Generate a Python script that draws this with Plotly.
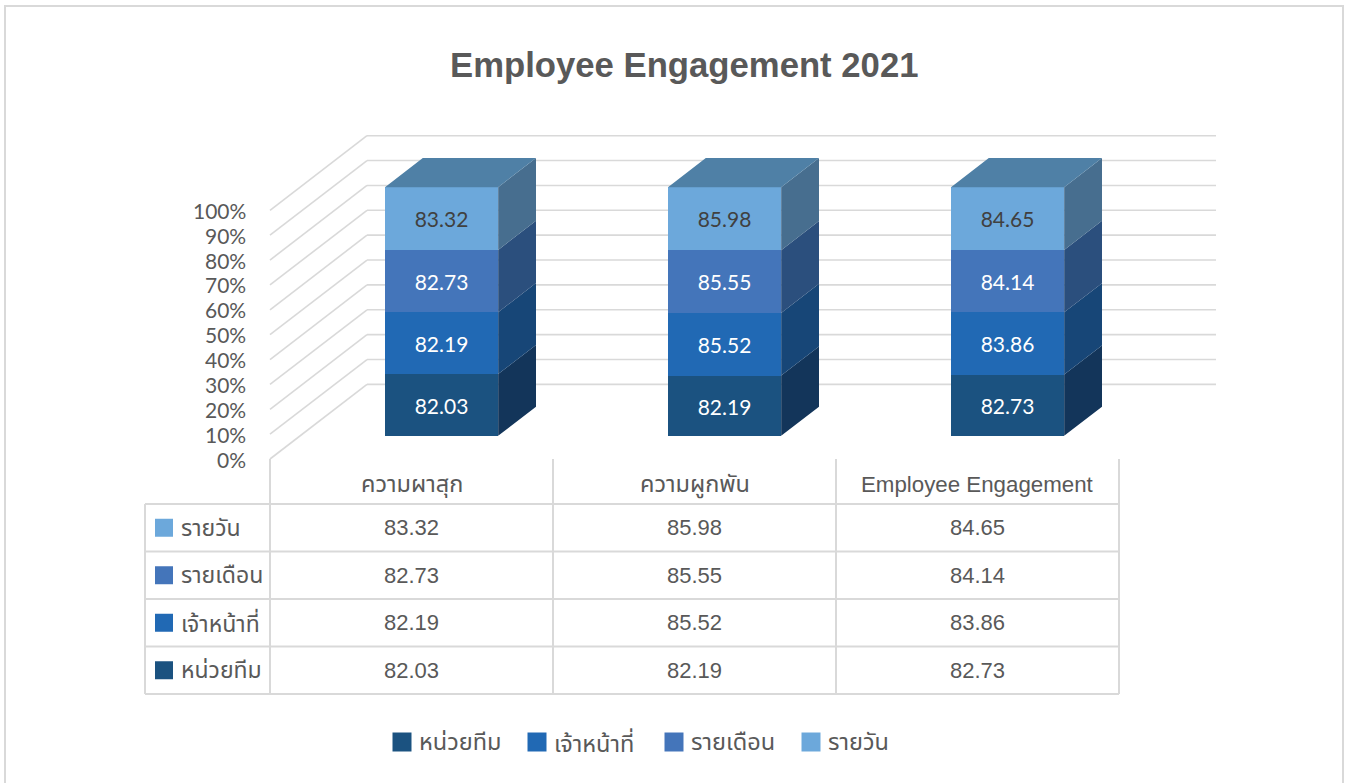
import plotly.graph_objects as go

# ---- data -------------------------------------------------------------
categories = ["ความผาสุก", "ความผูกพัน", "Employee Engagement"]
series_names = ["หน่วยทีม", "เจ้าหน้าที่", "รายเดือน", "รายวัน"]
team_unit = [82.03, 82.19, 82.73]      # หน่วยทีม
staff = [82.19, 85.52, 83.86]          # เจ้าหน้าที่
monthly = [82.73, 85.55, 84.14]        # รายเดือน
daily = [83.32, 85.98, 84.65]          # รายวัน
y_tick_values = [0, 10, 20, 30, 40, 50, 60, 70, 80, 90, 100]
y_tick_labels = ["0%", "10%", "20%", "30%", "40%", "50%", "60%", "70%", "80%", "90%", "100%"]

series_values = [team_unit, staff, monthly, daily]

# ---- styling ----------------------------------------------------------
front_colors = ["#1B5280", "#2169B4", "#4475BA", "#6CA8DB"]
side_colors = ["#13355A", "#174677", "#2B4F7D", "#476E8F"]
top_color = "#4F80A6"
label_colors = ["white", "white", "white", "#404040"]
grid_color = "#D9D9D9"
text_gray = "#595959"
num_font = "Lato"
table_font = ("Liberation Sans, Noto Sans Thai, Noto Sans Thai UI, Sarabun, Kanit, "
              "Tahoma, Loma, Garuda, sans-serif")

# ---- canvas / projection ---------------------------------------------
W, H = 1348, 783
CAT_PX = 283.0     # pixel width of one category slot
CAT0_PX = 411.5    # centre of the first slot on the front plane
PCT_PX = 2.487     # pixels per percentage point
BASE_PX = 459.0    # 0 % on the front plane


def xp(px):
    return (px - CAT0_PX) / CAT_PX


def yp(py):
    return (BASE_PX - py) / PCT_PX


DEPTH_X = 97.0 / CAT_PX   # oblique shift of the full depth, x units
DEPTH_Y = 30.0            # oblique shift of the full depth, y units
FRONT, BACK = 0.31, 0.70  # depth of the column front / back faces
BAR_W = 0.4

n_cat = len(categories)

# percentage shares for the 100 % stacked columns
totals = [sum(s[i] for s in series_values) for i in range(n_cat)]
shares = [[s[i] / totals[i] * 100 for i in range(n_cat)] for s in series_values]
bottoms = []
acc = [0.0] * n_cat
for sh in shares:
    bottoms.append(acc[:])
    acc = [a + b for a, b in zip(acc, sh)]

fig = go.Figure()
annotations = []
shapes = []

# ---- walls: gridlines on the left wall and back wall (behind columns) ---
left, right = -0.5, n_cat - 0.5
for v in y_tick_values:
    shapes.append(dict(type="line", xref="x", yref="y", layer="below",
                       x0=left, y0=v, x1=left + DEPTH_X, y1=v + DEPTH_Y,
                       line=dict(color=grid_color, width=1.6)))
    shapes.append(dict(type="line", xref="x", yref="y", layer="below",
                       x0=left + DEPTH_X, y0=v + DEPTH_Y, x1=right + DEPTH_X, y1=v + DEPTH_Y,
                       line=dict(color=grid_color, width=1.6)))

# ---- column front faces ----------------------------------------------
dxf = FRONT * DEPTH_X
dyf = FRONT * DEPTH_Y
for k, name in enumerate(series_names):
    fig.add_trace(go.Bar(
        x=[i + dxf for i in range(n_cat)],
        y=shares[k],
        base=[b + dyf for b in bottoms[k]],
        width=BAR_W,
        name=name,
        marker=dict(color=front_colors[k], line=dict(width=0)),
        text=[f"{v:.2f}" for v in series_values[k]],
        textposition="inside",
        insidetextanchor="middle",
        textangle=0,
        insidetextfont=dict(family=num_font, size=21, color=label_colors[k]),
        constraintext="none",
        hoverinfo="skip",
        showlegend=False,
    ))

# ---- column side faces and tops ---------------------------------------
ddx = (BACK - FRONT) * DEPTH_X
ddy = (BACK - FRONT) * DEPTH_Y
for k in range(len(series_names)):
    sx, sy = [], []
    for i in range(n_cat):
        xr = i + dxf + BAR_W / 2
        b = bottoms[k][i] + dyf
        t = b + shares[k][i]
        sx += [xr, xr + ddx, xr + ddx, xr, xr, None]
        sy += [b, b + ddy, t + ddy, t, b, None]
    fig.add_trace(go.Scatter(x=sx, y=sy, mode="lines", fill="toself",
                             fillcolor=side_colors[k], line=dict(width=0),
                             hoverinfo="skip", showlegend=False))

tx, ty = [], []
for i in range(n_cat):
    xl = i + dxf - BAR_W / 2
    xr = i + dxf + BAR_W / 2
    t = acc[i] + dyf
    tx += [xl, xr, xr + ddx, xl + ddx, xl, None]
    ty += [t, t, t + ddy, t + ddy, t, None]
fig.add_trace(go.Scatter(x=tx, y=ty, mode="lines", fill="toself",
                         fillcolor=top_color, line=dict(width=0),
                         hoverinfo="skip", showlegend=False))

# ---- value axis labels -------------------------------------------------
for v, lab in zip(y_tick_values, y_tick_labels):
    annotations.append(dict(x=left, y=v, xref="x", yref="y", text=lab,
                            showarrow=False, xanchor="right", yanchor="middle",
                            xshift=-22, font=dict(family=num_font, size=21, color=text_gray)))

# ---- data table --------------------------------------------------------
header_top = yp(459)
row_lines = [yp(p) for p in (504, 551.5, 599, 646.5, 694)]
legend_col_left = xp(145)
line_style = dict(color=grid_color, width=2)

# vertical lines
for j in range(n_cat + 1):
    xv = left + j
    shapes.append(dict(type="line", xref="x", yref="y", x0=xv, x1=xv,
                       y0=header_top, y1=row_lines[-1], line=line_style))
shapes.append(dict(type="line", xref="x", yref="y", x0=legend_col_left, x1=legend_col_left,
                   y0=row_lines[0], y1=row_lines[-1], line=line_style))
# horizontal lines
for yl in row_lines:
    shapes.append(dict(type="line", xref="x", yref="y", x0=legend_col_left, x1=right,
                       y0=yl, y1=yl, line=line_style))

# header row (Thai names get a larger size to balance the Latin one)
header_mid = (header_top + row_lines[0]) / 2 - 3 / PCT_PX
header_sizes = [23.5, 23.5, 22.3]
for i, c in enumerate(categories):
    annotations.append(dict(x=i, y=header_mid, xref="x", yref="y", text=c,
                            showarrow=False, xanchor="center", yanchor="middle",
                            font=dict(family=table_font, size=header_sizes[i], color=text_gray)))

# body rows: top row is the last series
row_order = list(range(len(series_names)))[::-1]
row_mids = [(row_lines[r] + row_lines[r + 1]) / 2 for r in range(len(row_order))]
key_x = xp(164)
fig.add_trace(go.Scatter(
    x=[key_x] * len(row_order), y=row_mids, mode="markers",
    marker=dict(symbol="square", size=18, color=[front_colors[k] for k in row_order],
                line=dict(width=0)),
    hoverinfo="skip", showlegend=False))
for r, k in enumerate(row_order):
    annotations.append(dict(x=xp(179), y=row_mids[r], xref="x", yref="y",
                            text=series_names[k], showarrow=False,
                            xanchor="left", yanchor="middle",
                            font=dict(family=table_font, size=23, color=text_gray)))
    for i in range(n_cat):
        annotations.append(dict(x=i, y=row_mids[r], xref="x", yref="y",
                                text=f"{series_values[k][i]:.2f}", showarrow=False,
                                xanchor="center", yanchor="middle",
                                font=dict(family=table_font, size=22, color=text_gray)))

# ---- legend ------------------------------------------------------------
legend_y = yp(742)
legend_key_px = [402, 537, 674, 811]
fig.add_trace(go.Scatter(
    x=[xp(p) for p in legend_key_px], y=[legend_y] * len(series_names), mode="markers",
    marker=dict(symbol="square", size=19, color=front_colors, line=dict(width=0)),
    hoverinfo="skip", showlegend=False))
for k, p in enumerate(legend_key_px):
    annotations.append(dict(x=xp(p + 15), y=legend_y, xref="x", yref="y",
                            text=series_names[k], showarrow=False,
                            xanchor="left", yanchor="middle",
                            font=dict(family=table_font, size=23.5, color=text_gray)))

# ---- title -------------------------------------------------------------
annotations.append(dict(x=684 / W, y=1 - 65 / H, xref="paper", yref="paper",
                        text="<b>Employee Engagement 2021</b>", showarrow=False,
                        xanchor="center", yanchor="middle",
                        font=dict(family="Liberation Sans", size=34.7, color=text_gray)))

# ---- chart border ------------------------------------------------------
shapes.append(dict(type="rect", xref="paper", yref="paper",
                   x0=5 / W, x1=1 - 5 / W, y0=-0.01, y1=1 - 6 / H,
                   line=dict(color=grid_color, width=2), fillcolor="rgba(0,0,0,0)"))

fig.update_layout(
    width=W, height=H, autosize=False,
    margin=dict(l=0, r=0, t=0, b=0, pad=0),
    paper_bgcolor="white", plot_bgcolor="white",
    barmode="overlay", bargap=0,
    showlegend=False,
    xaxis=dict(range=[xp(0), xp(W)], visible=False, fixedrange=True),
    yaxis=dict(range=[yp(H), yp(0)], visible=False, fixedrange=True),
    shapes=shapes,
    annotations=annotations,
)

fig.write_html("out.html")
